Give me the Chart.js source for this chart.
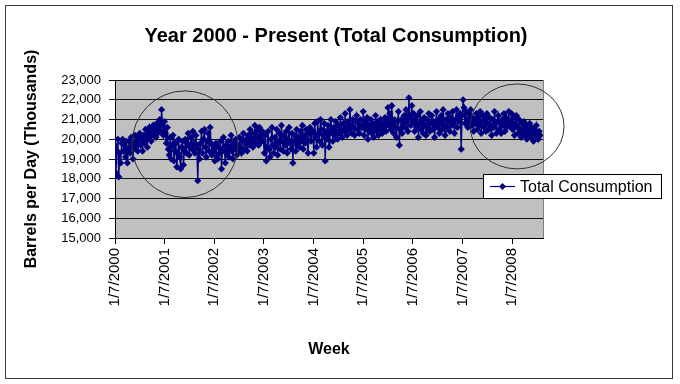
<!DOCTYPE html>
<html>
<head>
<meta charset="utf-8">
<script src="https://cdn.jsdelivr.net/npm/chart.js@4.4.1/dist/chart.umd.min.js"></script>
<style>
html,body{margin:0;padding:0;background:#fff;}
#wrap{width:680px;height:384px;position:relative;}
</style>
</head>
<body>
<div id="wrap"><canvas id="c" width="680" height="384"></canvas></div>
<script>
const chartTitle = "Year 2000 - Present (Total Consumption)";
const seriesName = "Total Consumption";
const yAxisTitle = "Barrels per Day (Thousands)";
const xAxisTitle = "Week";
const firstWeek = "1/7/2000";
const tickLabels = ["1/7/2000","1/7/2001","1/7/2002","1/7/2003","1/7/2004","1/7/2005","1/7/2006","1/7/2007","1/7/2008"];
const yTicks = [15000,16000,17000,18000,19000,20000,21000,22000,23000];

// weekly values (thousand barrels per day)
const w2000 = [19700,18300,19400,20000,18100,19300,18800,19800,20000,19400,
  19700,19100,19900,18800,19500,19900,19300,20100,19600,19000,
  19800,20200,19500,19900,19400,20100,20300,19700,20000,19400,
  20200,19800,20500,20000,19600,20300,20600,20100,19900,20400,
  20700,20200,20500,20100,20800,20300,20600,21000,20400,21500,
  20700,20200];
const w2001 = [20900,20300,19800,20600,19500,19200,20100,19000,19700,20200,
  18900,19400,19800,18600,19300,20000,19100,18500,19600,19900,
  18700,19400,20000,19300,19800,20300,19200,19600,20100,19500,
  20400,19800,19300,20200,19700,17900,19500,19000,19800,20400,
  19300,20000,20500,19600,19100,19900,20300,19400,20600,19800,
  19200,19700];
const w2002 = [19500,18900,19800,19200,19000,19600,19300,19900,18500,19500,
  20100,19400,18800,19700,19300,19900,19100,19600,20200,19400,
  19000,19800,19500,20000,19200,19700,19400,20100,19600,19300,
  19900,20300,19500,19800,20000,19400,20200,19700,20500,19900,
  20300,19600,20000,20700,19800,20400,20100,19700,20600,20200,
  19900,20400];
const w2003 = [19900,19300,20200,18900,19600,20400,19500,19100,20000,20600,
  19700,19300,20100,19600,20500,19200,19800,20300,19500,20700,
  19900,19400,20200,19700,20400,19300,20000,20600,19800,19500,
  20300,18800,19900,20200,19400,20500,19700,20100,19600,20400,
  19900,20700,19500,20200,19800,20500,20000,19300,20300,20600,
  19900,20400];
const w2004 = [20400,19300,20800,20100,19600,20900,20300,19900,21000,20500,
  19700,20200,20800,18900,20400,20000,20700,19600,20300,21000,
  20500,19900,20600,20200,20900,20400,20000,20700,20300,21100,
  20500,20100,20800,20400,21300,20600,20200,20900,20500,21500,
  20700,20300,21000,20600,20200,20900,21200,20500,20800,20300,
  21000,20600];
const w2005 = [20600,21400,20200,20900,20500,21100,20000,20700,20400,21000,
  20300,20800,20100,20600,21200,20400,20900,20200,20700,21000,
  20500,20300,20800,20600,21100,20400,20900,21600,20700,21300,
  20500,21700,20800,20300,21000,20600,20100,20900,21400,19700,
  20500,21000,20300,20800,21200,20600,21500,20900,20400,22100,
  21200,20700];
const w2006 = [21700,20900,21300,20400,21000,20600,21200,20100,20800,21400,
  20500,20900,20300,21100,20700,20200,21000,20600,21300,20400,
  20800,21200,20500,20900,20100,20700,21400,20600,21000,20300,
  20800,21200,20500,21500,20700,20200,21000,20600,21300,20900,
  20400,21100,20700,21400,20800,20300,21000,21500,20600,21200,
  20900,21300];
const w2007 = [19500,21200,22000,21600,20800,21400,21000,20600,21300,20900,
  21500,20700,21100,20400,21000,20800,21300,20500,21100,20700,
  21400,20300,20900,21200,20600,21000,20400,21300,20800,20500,
  21100,20700,20200,21000,20600,21400,20800,20300,20900,21200,
  20500,20900,20300,21000,20700,21300,20400,21100,20600,20900,
  21400,20700];
const w2008 = [20900,21300,20500,21100,20200,20800,21200,20600,20300,21000,
  20500,20100,20800,20400,20900,20200,20700,20000,20500,20300,
  20800,20100,20600,20400,19900,20500,20200,20700,20300,20000,
  20400,20200];
const weeklyConsumption = [].concat(w2000,w2001,w2002,w2003,w2004,w2005,w2006,w2007,w2008);

// circled regions: centre date, centre value, half-width in days, half-height in value units
const highlightDates = ["6/5/2001","2/14/2008"];
const highlightValues = [19750, 20650];
const highlightHalfDays = [390, 345];
const highlightHalfValues = [2700, 2150];

function parseMDY(s){ const p = s.split('/').map(Number); return Date.UTC(p[2], p[0]-1, p[1]); }
const t0 = parseMDY(firstWeek);
function dayOf(s){ return (parseMDY(s) - t0) / 86400000; }
const tickDays = tickLabels.map(dayOf);
const points = weeklyConsumption.map((v,i) => ({x: i*7, y: v}));

const FONT = "'Liberation Sans', Arial, Helvetica, sans-serif";
Chart.defaults.font.family = FONT;
Chart.defaults.color = '#000';

const decor = {
  id: 'decor',
  beforeDraw(chart){
    const {ctx, chartArea: a} = chart;
    ctx.save();
    ctx.fillStyle = '#fff';
    ctx.fillRect(0,0,chart.width,chart.height);
    ctx.fillStyle = '#c0c0c0';
    ctx.fillRect(a.left, a.top, a.right-a.left, a.bottom-a.top);
    ctx.restore();
  },
  afterDraw(chart){
    const {ctx, chartArea: a} = chart;
    const xs = chart.scales.x, ys = chart.scales.y;
    ctx.save();
    ctx.strokeStyle = '#808080'; ctx.lineWidth = 1;
    ctx.beginPath(); ctx.moveTo(a.right+0.5, a.top); ctx.lineTo(a.right+0.5, a.bottom); ctx.stroke();
    ctx.strokeStyle = '#3a3a3a';
    ctx.strokeRect(5.5, 5.5, 667, 373);
    ctx.fillStyle = '#000';
    ctx.font = 'bold 20px ' + FONT;
    ctx.textAlign = 'center'; ctx.textBaseline = 'middle';
    ctx.fillText(chartTitle, 336, 36);
    ctx.strokeStyle = '#303030'; ctx.lineWidth = 1;
    for (let k=0;k<highlightDates.length;k++){
      const d = dayOf(highlightDates[k]);
      const cx = xs.getPixelForValue(d), cy = ys.getPixelForValue(highlightValues[k]);
      const rx = xs.getPixelForValue(d + highlightHalfDays[k]) - cx;
      const ry = cy - ys.getPixelForValue(highlightValues[k] + highlightHalfValues[k]);
      ctx.beginPath(); ctx.ellipse(cx, cy, rx, ry, 0, 0, Math.PI*2); ctx.stroke();
    }
    const lx = 483, ly = 174, lw = 178, lh = 24;
    ctx.fillStyle = '#fff'; ctx.fillRect(lx, ly, lw, lh);
    ctx.strokeStyle = '#000'; ctx.strokeRect(lx+0.5, ly+0.5, lw, lh);
    const my = ly + lh/2 + 0.5;
    ctx.strokeStyle = '#000080'; ctx.lineWidth = 1.2;
    ctx.beginPath(); ctx.moveTo(490, my); ctx.lineTo(515, my); ctx.stroke();
    ctx.fillStyle = '#000080';
    ctx.beginPath(); ctx.moveTo(502.5, my-3.5); ctx.lineTo(506, my); ctx.lineTo(502.5, my+3.5); ctx.lineTo(499, my); ctx.closePath(); ctx.fill();
    ctx.fillStyle = '#000'; ctx.font = '16px ' + FONT;
    ctx.textAlign = 'left'; ctx.textBaseline = 'middle';
    ctx.fillText(seriesName, 520, my+1);
    ctx.restore();
  }
};

new Chart(document.getElementById('c'), {
  type: 'line',
  data: { datasets: [{
    label: seriesName,
    data: points,
    borderColor: '#000080',
    backgroundColor: '#000080',
    borderWidth: 1.3,
    pointStyle: 'rectRot',
    pointRadius: 3.6,
    pointBackgroundColor: '#000080',
    pointBorderColor: '#000080',
    pointBorderWidth: 0,
    tension: 0,
    fill: false
  }]},
  options: {
    responsive: false,
    animation: false,
    events: [],
    layout: { padding: { left: 0, right: 137, top: 80, bottom: 0 } },
    plugins: { legend: { display: false }, title: { display: false }, tooltip: { enabled: false } },
    scales: {
      x: {
        type: 'linear',
        min: 0, max: 3150,
        afterFit(s){ s.height = 146; },
        afterBuildTicks(s){ s.ticks = tickDays.map(v => ({value: v})); },
        ticks: {
          autoSkip: false, minRotation: 90, maxRotation: 90, padding: 4,
          font: { size: 15 }, color: '#000',
          callback: (v, i) => tickLabels[i]
        },
        grid: { drawOnChartArea: false, drawTicks: true, tickLength: 6, color: '#000', lineWidth: 1 },
        border: { display: true, color: '#000', width: 1 },
        title: { display: true, text: xAxisTitle, font: { size: 16, weight: 'bold' }, color: '#000', padding: { top: 0, bottom: 25 } }
      },
      y: {
        min: 15000, max: 23000,
        afterFit(s){ s.width = 115; },
        afterBuildTicks(s){ s.ticks = yTicks.map(v => ({value: v})); },
        ticks: {
          padding: 8, font: { size: 13 }, color: '#000',
          callback: v => v.toLocaleString('en-US')
        },
        grid: { color: '#111', lineWidth: 1, drawTicks: true, tickLength: 6 },
        border: { display: true, color: '#000', width: 1 },
        title: { display: true, text: yAxisTitle, font: { size: 16, weight: 'bold' }, color: '#000', padding: { top: 22, bottom: 0 } }
      }
    }
  },
  plugins: [decor]
});
</script>
</body>
</html>
